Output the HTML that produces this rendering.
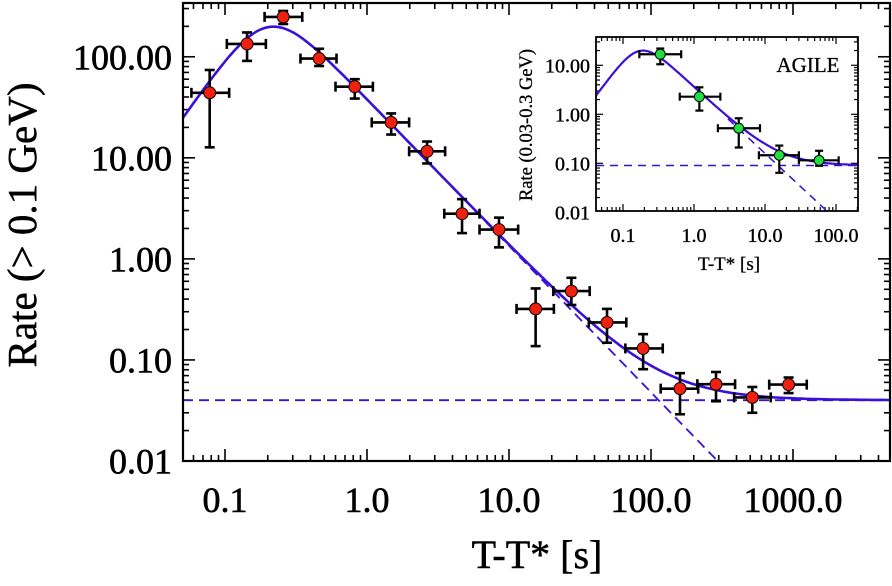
<!DOCTYPE html>
<html><head><meta charset="utf-8"><style>
body{margin:0;background:#fff;overflow:hidden;}
svg{display:block;font-family:"Liberation Serif",serif;}
</style></head><body>
<svg id="chart" width="892" height="586" viewBox="0 0 892 586" xmlns="http://www.w3.org/2000/svg"></svg>
<script>
// Main panel data
const mainT = [0.078,0.143,0.257,0.46,0.82,1.48,2.65,4.67,8.5,15.4,27.5,49,88,160,287,517,931];
const mainRate = [44,134,248,96,50.6,22.4,11.6,2.8,1.95,0.32,0.48,0.235,0.13,0.052,0.0575,0.0426,0.057];
const mainRateHi = [74,174,284,120,60,27.5,14.5,3.9,2.56,0.51,0.65,0.32,0.18,0.074,0.076,0.054,0.067];
const mainRateLo = [12.7,91,211,81,38.6,17,8.8,1.8,1.3,0.137,0.35,0.148,0.081,0.029,0.039,0.030,0.047];
const mainTLo = [0.058,0.103,0.19,0.34,0.6,1.08,1.98,3.5,6.2,11.3,20.5,36.5,66,117,212,385,680];
const mainTHi = [0.107,0.194,0.35,0.61,1.1,1.98,3.55,6.2,11.6,20.7,37,67,121,215,391,697,1250];
const mainXTicks = [0.1,1,10,100,1000];
const mainXLabels = ["0.1","1.0","10.0","100.0","1000.0"];
const mainYTicks = [0.01,0.1,1,10,100];
const mainYLabels = ["0.01","0.10","1.00","10.00","100.00"];
const mainModel = [392,0.2,2,1.45,0.04]; // A, tb, alpha, beta, const
// Inset data
const insT = [0.335,1.19,4.27,15.9,57.8];
const insRate = [16.8,2.29,0.52,0.146,0.115];
const insRateHi = [22,3.56,0.83,0.23,0.18];
const insRateLo = [10.5,1.19,0.21,0.064,0.089];
const insTLo = [0.17,0.63,2.17,8.2,30];
const insTHi = [0.66,2.35,8.5,30,109];
const insXTicks = [0.1,1,10,100];
const insXLabels = ["0.1","1.0","10.0","100.0"];
const insYTicks = [0.01,0.1,1,10];
const insYLabels = ["0.01","0.10","1.00","10.00"];
const insModel = [39,0.17,2,1.35,0.09];

const NS="http://www.w3.org/2000/svg";
const svg=document.getElementById('chart');
function mk(tag,attrs,parent){const e=document.createElementNS(NS,tag);for(const k in attrs)e.setAttribute(k,attrs[k]);(parent||svg).appendChild(e);return e;}
const L=Math.log10;
function model(p,t){const u=t/p[1];return p[0]*Math.pow(u,p[2])/(1+Math.pow(u,p[2]+p[3]));}
function decay(p,t){const u=t/p[1];return p[0]*Math.pow(u,-p[3]);}

function panel(cfg){
  const {x0,x1,y0,y1,xmin,xmax,ymin,ymax,name}=cfg;
  const g=mk('g',{});
  
  
  const sx=t=>x0+(L(t)-L(xmin))/(L(xmax)-L(xmin))*(x1-x0);
  const sy=v=>y1-(L(v)-L(ymin))/(L(ymax)-L(ymin))*(y1-y0);
  const clip='clip-'+name;
  const cp=mk('clipPath',{id:clip},g);mk('rect',{x:x0,y:y0,width:x1-x0,height:y1-y0},cp);
  const tg=mk('g',{stroke:'#000','stroke-width':cfg.tw},g);
  
  
  for(let d=Math.floor(L(xmin));d<=Math.ceil(L(xmax));d++){for(let m=1;m<10;m++){const t=m*Math.pow(10,d);if(t<xmin||t>xmax)continue;const x=sx(t);const len=m==1?cfg.maj:cfg.min;
    mk('line',{x1:x,x2:x,y1:y1,y2:y1-len},tg);mk('line',{x1:x,x2:x,y1:y0,y2:y0+len},tg);}}
  for(let d=Math.floor(L(ymin));d<=Math.ceil(L(ymax));d++){for(let m=1;m<10;m++){const v=m*Math.pow(10,d);if(v<ymin*0.999||v>ymax)continue;const y=sy(v);const len=m==1?cfg.maj:cfg.min;
    mk('line',{x1:x0,x2:x0+len,y1:y,y2:y},tg);mk('line',{x1:x1,x2:x1-len,y1:y,y2:y},tg);}}
  cfg.xt.forEach((t,i)=>{const e=mk('text',{x:sx(t),y:cfg.xly,'text-anchor':'middle','font-size':cfg.fs,stroke:'#000','stroke-width':cfg.ts},g);e.textContent=cfg.xl[i];
    
    });
  cfg.yt.forEach((v,i)=>{const e=mk('text',{x:cfg.ylx,y:sy(v)+cfg.fs*0.35,'text-anchor':'end','font-size':cfg.fs,stroke:'#000','stroke-width':cfg.ts},g);e.textContent=cfg.yl[i];
    
    });
  const p=cfg.model;const cg=mk('g',{'clip-path':'url(#'+clip+')'},g);
  let d='';for(let i=0;i<=300;i++){const t=Math.pow(10,L(xmin)+i/300*(L(xmax)-L(xmin)));d+=(i?'L':'M')+sx(t).toFixed(1)+','+sy(model(p,t)+p[4]).toFixed(1);}
  const curve=mk('path',{d:d,fill:'none',stroke:'#3a10d8','stroke-width':cfg.lw},cg);
  
  
  const hb=mk('line',{x1:x0,x2:x1,y1:sy(p[4]),y2:sy(p[4]),stroke:'#3a10d8','stroke-width':cfg.lw*0.7,'stroke-dasharray':cfg.dash},cg);
  
  
  let d2='';for(let i=0;i<=100;i++){const t=Math.pow(10,L(cfg.dstart)+i/100*(L(xmax)-L(cfg.dstart)));d2+=(i?'L':'M')+sx(t).toFixed(1)+','+sy(decay(p,t)).toFixed(1);}
  const dp=mk('path',{d:d2,fill:'none',stroke:'#3a10d8','stroke-width':cfg.lw*0.7,'stroke-dasharray':cfg.dash},cg);
  
  
  cfg.T.forEach((t,i)=>{const pg=mk('g',{stroke:'#000','stroke-width':cfg.ew},g);
    
    
    const x=sx(t),y=sy(cfg.R[i]),c=cfg.cap;
    const xa=sx(cfg.TL[i]),xb=sx(cfg.TH[i]),ya=sy(cfg.RH[i]),yb=sy(cfg.RL[i]);
    mk('line',{x1:xa,x2:xb,y1:y,y2:y},pg);mk('line',{x1:xa,x2:xa,y1:y-c,y2:y+c},pg);mk('line',{x1:xb,x2:xb,y1:y-c,y2:y+c},pg);
    mk('line',{x1:x,x2:x,y1:ya,y2:yb},pg);mk('line',{x1:x-c,x2:x+c,y1:ya,y2:ya},pg);mk('line',{x1:x-c,x2:x+c,y1:yb,y2:yb},pg);
    mk('circle',{cx:x,cy:y,r:cfg.r,fill:cfg.color,'stroke-width':1},pg);});
  const fr=mk('rect',{x:x0,y:y0,width:x1-x0,height:y1-y0,fill:'none',stroke:'#000','stroke-width':cfg.fw},g);
  
  
}
panel({name:'main-plot',x0:183,x1:890,y0:3,y1:461,
  xmin:Math.pow(10,-1-42/142),xmax:Math.pow(10,3+97/142),
  ymin:0.01,ymax:Math.pow(10,2+54/101.5),
  tw:1.6,maj:12,min:6,fw:2.2,fs:36,ts:0.6,xly:512,ylx:172,
  xt:mainXTicks,xl:mainXLabels,yt:mainYTicks,yl:mainYLabels,model:mainModel,lw:2.6,dash:'10,6',dstart:4,
  T:mainT,R:mainRate,RH:mainRateHi,RL:mainRateLo,TL:mainTLo,TH:mainTHi,ew:2.6,cap:5,r:6,color:'#f02010'});
panel({name:'inset-plot',x0:596,x1:858,y0:37,y1:211,
  xmin:Math.pow(10,-1-27/71),xmax:Math.pow(10,2+22/71),
  ymin:Math.pow(10,-2+(3*49-145.7)/49),ymax:Math.pow(10,1+28.3/49),
  tw:1.2,maj:7,min:4,fw:1.8,fs:20,ts:0.35,xly:242,ylx:590,
  xt:insXTicks,xl:insXLabels,yt:insYTicks,yl:insYLabels,model:insModel,lw:2.2,dash:'8,6',dstart:3,
  T:insT,R:insRate,RH:insRateHi,RL:insRateLo,TL:insTLo,TH:insTHi,ew:2.2,cap:4,r:5,color:'#20e040'});
function txt(s,a,name){const e=mk('text',a);e.textContent=s;return e;}
txt('T-T* [s]',{x:537,y:568,'text-anchor':'middle','font-size':40,stroke:'#000','stroke-width':0.5},'x-axis-title');
txt('Rate (> 0.1 GeV)',{x:0,y:0,'text-anchor':'middle','font-size':41,stroke:'#000','stroke-width':0.5,transform:'translate(36,225) rotate(-90)'},'y-axis-title');
txt('T-T* [s]',{x:729,y:270,'text-anchor':'middle','font-size':19,stroke:'#000','stroke-width':0.3},'inset-x-axis-title');
txt('Rate (0.03-0.3 GeV)',{x:0,y:0,'text-anchor':'middle','font-size':18.5,stroke:'#000','stroke-width':0.3,transform:'translate(532,125) rotate(-90)'},'inset-y-axis-title');
txt('AGILE',{x:808,y:72,'text-anchor':'middle','font-size':21,stroke:'#000','stroke-width':0.3},'inset-label-agile');
</script>
</body></html>
